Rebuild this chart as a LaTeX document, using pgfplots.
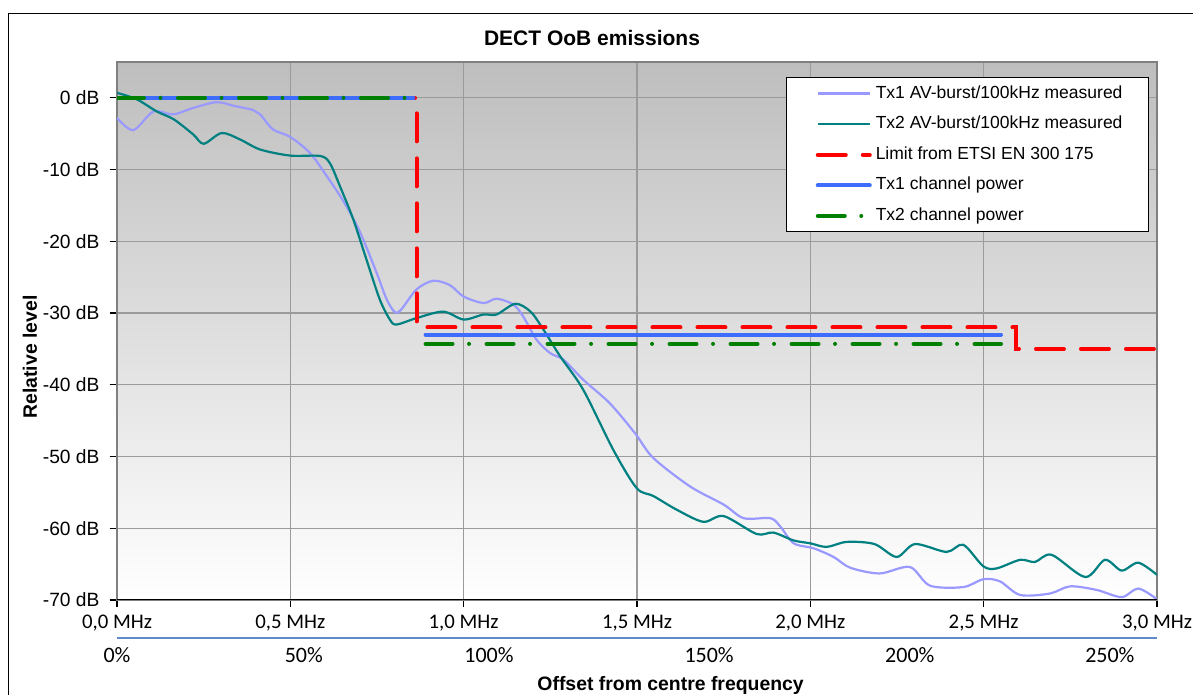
\documentclass[border=0pt]{standalone}
\usepackage{pgfplots}
\pgfplotsset{compat=1.18}
\usepackage{fontspec}
\setmainfont{Liberation Sans}
\newfontfamily\calibri{Carlito}
\definecolor{tx1c}{RGB}{153,153,255}
\definecolor{tx2c}{RGB}{0,128,128}
\definecolor{limc}{RGB}{255,0,0}
\definecolor{chblue}{RGB}{61,108,255}
\definecolor{chgreen}{RGB}{0,128,0}
\definecolor{gridc}{RGB}{155,155,155}
\definecolor{framec}{RGB}{128,128,128}
\definecolor{bgtop}{RGB}{190,190,190}
\definecolor{pctc}{RGB}{95,140,200}
\begin{document}
\begin{tikzpicture}
\useasboundingbox (0,0) rectangle (596.5pt,347.5pt);
\fill[white] (0,0) rectangle (596.5pt,347.5pt);
\draw[black, line width=0.6pt] (4.15pt,-5pt) -- (4.15pt,340.85pt) -- (610pt,340.85pt);
\node[font=\fontsize{10.5}{12}\selectfont\bfseries, anchor=base] at (296pt,324.75pt) {DECT OoB emissions};
\node[font=\fontsize{9.7}{11}\selectfont\bfseries, rotate=90] at (15pt,169pt) {Relative level};
\node[font=\fontsize{9.7}{11}\selectfont\bfseries, anchor=base] at (335.3pt,2.15pt) {Offset from centre frequency};
\begin{axis}[
  at={(58.5pt,47.5pt)}, anchor=south west,
  scale only axis, width=520pt, height=269pt,
  xmin=0, xmax=3, ymin=-70, ymax=5,
  xtick={0,0.5,1,1.5,2,2.5,3},
  xticklabels={{0,0 MHz},{0,5 MHz},{1,0 MHz},{1,5 MHz},{2,0 MHz},{2,5 MHz},{3,0 MHz}},
  ytick={-70,-60,-50,-40,-30,-20,-10,0},
  yticklabels={-70 dB,-60 dB,-50 dB,-40 dB,-30 dB,-20 dB,-10 dB,0 dB},
  grid=major, major grid style={color=gridc, line width=0.6pt},
  tick align=outside, major tick length=3.75pt, tick style={black, line width=0.6pt},
  xtick pos=bottom, ytick pos=left,
  axis line style={draw=framec, line width=1pt},
  axis background/.style={top color=bgtop, bottom color=white},
  yticklabel style={font=\fontsize{9.6}{11}\selectfont, xshift=-1.5pt},
  xticklabel style={font=\calibri\fontsize{10.4}{12}\selectfont, anchor=base, yshift=-10.35pt},
  unbounded coords=jump,
  legend image code/.code={\draw[#1] (1pt,0pt) -- (27pt,0pt); \path[draw=none, fill=none] (-3.5pt,0pt) -- (-3pt,0pt);},
  legend cell align=left,
  legend style={at={(0.9923,0.972)}, anchor=north east, draw=black, line width=0.5pt, fill=white,
    font=\fontsize{8.75}{10}\selectfont, inner xsep=11pt, inner ysep=2pt, row sep=3.3pt,
    nodes={inner sep=2pt, text height=6.3pt, text depth=1.7pt},
    /tikz/every even column/.append style={column sep=0pt}},
]
\addplot[tx1c, line width=1.1pt, smooth, tension=0.5] coordinates {
(0,-2.8)(0.047,-4.5)(0.105,-1.9)(0.162,-2.3)(0.22,-1.4)(0.287,-0.6)(0.336,-1.1)
(0.393,-1.7)(0.413,-2.3)(0.45,-4.4)(0.5,-5.45)(0.557,-7.7)(0.605,-10.9)(0.653,-14.4)
(0.7,-18.6)(0.749,-24.4)(0.778,-28.1)(0.802,-29.9)(0.82,-29.5)(0.864,-26.7)(0.912,-25.5)
(0.96,-26.1)(1.0,-27.7)(1.057,-28.6)(1.095,-28.0)(1.143,-28.8)(1.172,-30.5)(1.21,-33.7)
(1.25,-35.6)(1.288,-36.5)(1.345,-39.3)(1.422,-42.6)(1.495,-46.8)(1.547,-50.2)(1.654,-54.2)
(1.75,-56.7)(1.808,-58.6)(1.885,-58.6)(1.914,-59.8)(1.952,-62.1)(2.01,-62.8)(2.067,-64.0)
(2.115,-65.5)(2.2,-66.3)(2.287,-65.4)(2.345,-68.0)(2.441,-68.2)(2.499,-67.1)(2.547,-67.4)
(2.605,-69.3)(2.691,-69.1)(2.749,-68.1)(2.826,-68.6)(2.898,-69.6)(2.946,-68.4)(3.0,-69.9)};
\addlegendentry{Tx1 AV-burst/100kHz measured}
\addplot[tx2c, line width=1.1pt, smooth, tension=0.5] coordinates {
(0,0.7)(0.057,-0.2)(0.115,-1.9)(0.164,-3.0)(0.22,-5.1)(0.25,-6.4)(0.302,-4.9)(0.355,-5.8)
(0.413,-7.2)(0.5,-8.05)(0.586,-8.1)(0.614,-9.1)(0.643,-12.3)(0.682,-17.0)(0.72,-22.6)
(0.758,-28.1)(0.787,-30.9)(0.806,-31.6)(0.864,-30.7)(0.941,-29.8)(1.0,-30.9)(1.057,-30.2)
(1.095,-30.2)(1.149,-28.7)(1.193,-29.8)(1.23,-32.3)(1.278,-36.0)(1.345,-40.7)(1.432,-49.1)
(1.499,-54.4)(1.547,-55.5)(1.614,-57.4)(1.691,-59.1)(1.75,-58.3)(1.845,-60.8)(1.893,-60.6)
(1.952,-61.7)(2.0,-62.1)(2.047,-62.6)(2.105,-61.9)(2.185,-62.2)(2.249,-64.0)(2.302,-62.2)
(2.393,-63.3)(2.441,-62.3)(2.499,-65.3)(2.537,-65.6)(2.605,-64.4)(2.648,-64.7)(2.696,-63.7)
(2.793,-66.8)(2.85,-64.4)(2.898,-65.9)(2.946,-64.8)(3.0,-66.5)};
\addlegendentry{Tx2 AV-burst/100kHz measured}
\addplot[limc, line width=2pt, line cap=round, dash pattern=on 14pt off 8.5pt] coordinates {
(0,0)(0.864,0)(0.864,-32)(2.592,-32)(2.592,-35)(3,-35)};
\addlegendentry{Limit from ETSI EN 300 175}
\addplot[chblue, line width=2pt, line cap=round] coordinates {
(0,0)(0.855,0)(0.87,nan)(0.89,-33)(2.55,-33)};
\addlegendentry{Tx1 channel power}
\addplot[chgreen, line width=2pt, line cap=round, dash pattern=on 13.5pt off 8.25pt on 0pt off 8.75pt] coordinates {
(0,0)(0.855,0)(0.87,nan)(0.89,-34.3)(2.55,-34.3)};
\addlegendentry{Tx2 channel power}
\draw[black, line width=0.8pt] (rel axis cs:0,0) -- (rel axis cs:1,0);
\end{axis}
\begin{axis}[
  at={(58.5pt,28.35pt)}, anchor=south west,
  scale only axis, width=520pt, height=10pt,
  xmin=0, xmax=3, ymin=0, ymax=1,
  axis x line*=bottom, axis y line=none,
  x axis line style={-, draw=pctc, line width=0.8pt},
  xtick={0,0.539,1.073,1.708,2.287,2.864},
  xticklabels={0\%,50\%,100\%,150\%,200\%,250\%},
  major tick length=0pt,
  xticklabel style={font=\calibri\fontsize{11}{13}\selectfont, anchor=base, yshift=-12.2pt},
]
\addplot[draw=none] coordinates {(0,0)(3,1)};
\end{axis}
\end{tikzpicture}
\end{document}
